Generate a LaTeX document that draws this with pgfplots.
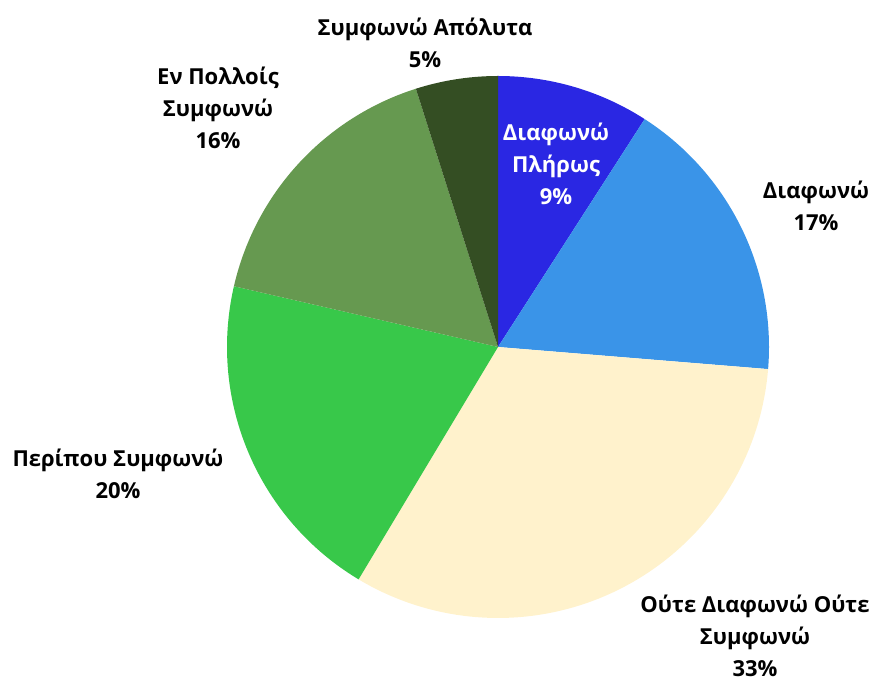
\documentclass[border=0pt]{standalone}
\usepackage{fontspec}
\setmainfont{Open Sans}
\usepackage{pgfplots}
\pgfplotsset{compat=1.18}
\definecolor{c1}{HTML}{2A27E3}
\definecolor{c2}{HTML}{3A94E8}
\definecolor{c3}{HTML}{FFF2CC}
\definecolor{c4}{HTML}{38C84A}
\definecolor{c5}{HTML}{669950}
\definecolor{c6}{HTML}{344E23}
% slice: colour, start %, end %
\newcommand{\slice}[3]{%
  \addplot[fill=#1, draw=none, domain=#2:#3, samples=80, variable=\t]
    ({498+271*sin(3.6*\t)},{337+271*cos(3.6*\t)}) -- (axis cs:498,337) -- cycle;}
\begin{document}
\begin{tikzpicture}
\begin{axis}[hide axis, scale only axis, width=874pt, height=684pt,
  xmin=0, xmax=874, ymin=0, ymax=684, clip=false]
\addplot[draw=none, forget plot] coordinates {(0,0) (874,684)};
% shares (%): 9.1, 17.2, 32.3, 20.0, 16.5, 4.9
\slice{c1}{0}{9.1}
\slice{c2}{9.1}{26.3}
\slice{c3}{26.3}{58.6}
\slice{c4}{58.6}{78.6}
\slice{c5}{78.6}{95.1}
\slice{c6}{95.1}{100}
\tikzset{lbl/.style={align=center, inner sep=0pt, font=\bfseries\fontsize{22}{32}\selectfont}}
\node[lbl] at (axis cs:425,641) {Συμφωνώ Απόλυτα\\5\%};
\node[lbl] at (axis cs:218,576) {Εν Πολλοίς\\Συμφωνώ\\16\%};
\node[lbl, text=white] at (axis cs:556,520) {Διαφωνώ\\Πλήρως\\9\%};
\node[lbl] at (axis cs:816,478) {Διαφωνώ\\17\%};
\node[lbl] at (axis cs:118,210) {Περίπου Συμφωνώ\\20\%};
\node[lbl] at (axis cs:755,48) {Ούτε Διαφωνώ Ούτε\\Συμφωνώ\\33\%};
\end{axis}
\end{tikzpicture}
\end{document}
